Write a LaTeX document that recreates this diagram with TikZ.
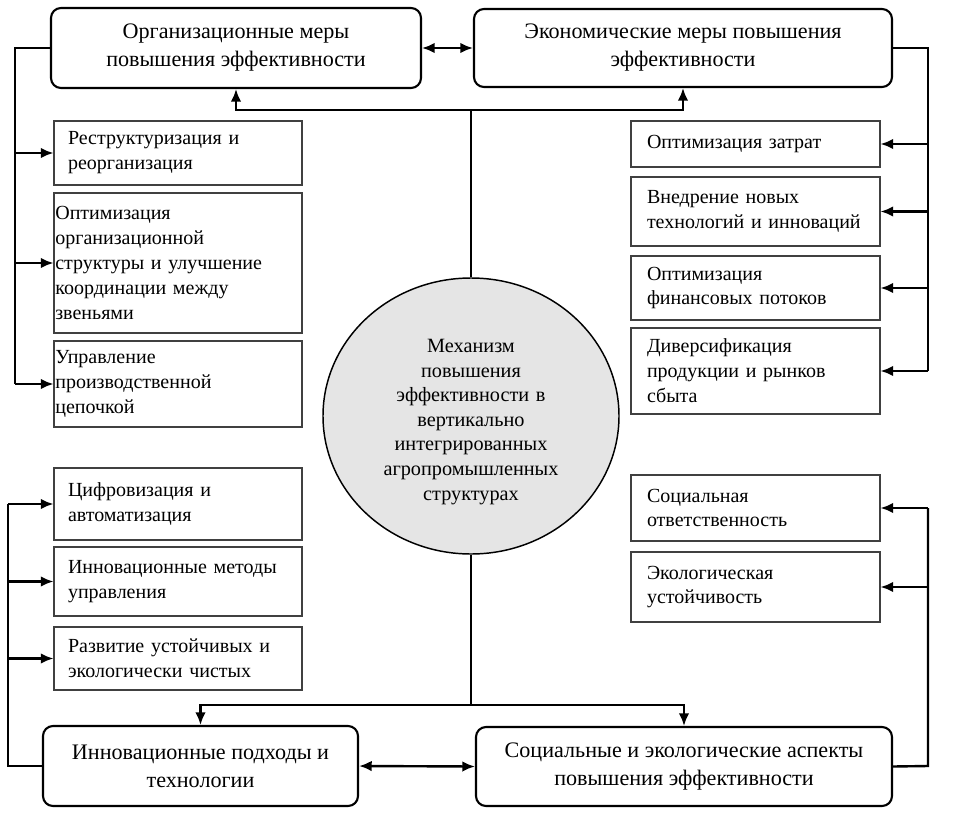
\documentclass[tikz,border=0pt]{standalone}
\usepackage{fontspec}
\setmainfont{Liberation Serif}
\usetikzlibrary{arrows.meta,shapes.geometric}
\begin{document}
\begin{tikzpicture}[x=0.75pt,y=-0.75pt,
  bigbox/.style={draw=black,line width=1.6pt,rounded corners=7.5pt,align=center,
    font=\fontsize{16.6}{21}\selectfont,inner sep=0pt},
  smallbox/.style={draw=black!75,line width=0.8pt,align=left,
    font=\fontsize{15}{18.7}\selectfont,inner ysep=0pt},
  lpad/.style={inner xsep=10.5pt,text width=165pt,minimum width=186pt},
  npad/.style={inner xsep=1pt,text width=184pt,minimum width=186pt},
  rpad/.style={inner xsep=12pt,text width=162.75pt,minimum width=186.75pt},
  conn/.style={line width=1.8pt},
  arr/.style={line width=1.8pt,-{Latex[length=9.5pt,width=8pt]}},
  darr/.style={line width=1.8pt,{Latex[length=9.5pt,width=8pt]}-{Latex[length=9.5pt,width=8pt]}}]
\useasboundingbox (0,0) rectangle (979,839);
% big boxes
\node[bigbox,minimum width=277.5pt,minimum height=60pt] (tl) at (236,48) {Организационные меры\\повышения эффективности};
\node[bigbox,minimum width=313.5pt,minimum height=58.5pt] (tr) at (683,48) {Экономические меры повышения\\эффективности};
\node[bigbox,minimum width=236.25pt,minimum height=60pt] (bl) at (200.5,766) {Инновационные подходы и\\технологии};
\node[bigbox,minimum width=312pt,minimum height=59.25pt] (br) at (684,766.5) {Социальные и экологические аспекты\\повышения эффективности};
% centre
\node[ellipse,draw=black,line width=1.1pt,fill=black!10,minimum width=222pt,minimum height=207pt,
  inner sep=0pt] (c) at (471,416) {};
\node[inner sep=0pt,text width=160pt,align=center,font=\fontsize{15.2}{18.4}\selectfont] (ct) at (471,422)
  {Механизм\\повышения\\эффективности в\\вертикально\\интегрированных\\агропромышленных\\структурах};
% left top boxes
\node[smallbox,lpad,minimum height=48pt] (l1) at (178,153) {Реструктуризация и\\реорганизация};
\node[smallbox,npad,minimum height=105pt] (l2) at (178,263) {Оптимизация\\организационной\\структуры и улучшение\\координации между\\звеньями};
\node[smallbox,npad,minimum height=64.5pt] (l3) at (178,384) {Управление\\производственной\\цепочкой};
% left bottom boxes
\node[smallbox,lpad,minimum height=54pt] (d1) at (178,504) {Цифровизация и\\автоматизация};
\node[smallbox,lpad,minimum height=51.75pt] (d2) at (178,581.5) {Инновационные методы\\управления};
\node[smallbox,lpad,minimum height=47.25pt] (d3) at (178,658.5) {Развитие устойчивых и\\экологически чистых};
% right top boxes
\node[smallbox,rpad,minimum height=34.5pt] (r1) at (755.5,144) {Оптимизация затрат};
\node[smallbox,rpad,minimum height=51.75pt] (r2) at (755.5,211.5) {Внедрение новых\\технологий и инноваций};
\node[smallbox,rpad,minimum height=48pt] (r3) at (755.5,288) {Оптимизация\\финансовых потоков};
\node[smallbox,rpad,minimum height=64.5pt] (r4) at (755.5,371) {Диверсификация\\продукции и рынков\\сбыта};
% right bottom boxes
\node[smallbox,rpad,minimum height=49.5pt] (s1) at (755.5,508) {Социальная\\ответственность};
\node[smallbox,rpad,minimum height=52.5pt] (s2) at (755.5,587) {Экологическая\\устойчивость};
% coordinates
\coordinate (T) at (471,110);
\coordinate (B) at (471,705);
\coordinate (LT) at (15,48);
\coordinate (LB) at (8,766);
\coordinate (RT) at (928,48);
\coordinate (RB) at (928,766);
% trunk
\draw[conn] (c.north) -- (T);
\draw[arr] (T) -| (tl.south);
\draw[arr] (T) -| (tr.south);
\draw[conn] (c.south) -- (B);
\draw[arr] (B) -| (bl.north);
\draw[arr] (B) -| (br.north);
% double arrows
\draw[darr] (tl.east) -- (tr.west);
\draw[darr] (bl.east) -- (br.west);
% left top
\draw[conn] (tl.west) -- (LT) -- (l3.west -| LT);
\draw[arr] (l1.west -| LT) -- (l1.west);
\draw[arr] (l2.west -| LT) -- (l2.west);
\draw[arr] (l3.west -| LT) -- (l3.west);
% left bottom
\draw[conn] (bl.west) -- (LB) -- (d1.west -| LB);
\draw[arr] (d1.west -| LB) -- (d1.west);
\draw[arr] (d2.west -| LB) -- (d2.west);
\draw[arr] (d3.west -| LB) -- (d3.west);
% right top
\draw[conn] (tr.east) -- (RT) -- (r4.east -| RT);
\draw[arr] (r1.east -| RT) -- (r1.east);
\draw[arr] (r2.east -| RT) -- (r2.east);
\draw[arr] (r3.east -| RT) -- (r3.east);
\draw[arr] (r4.east -| RT) -- (r4.east);
% right bottom
\draw[conn] (br.east) -- (RB) -- (s1.east -| RB);
\draw[arr] (s1.east -| RB) -- (s1.east);
\draw[arr] (s2.east -| RB) -- (s2.east);
\end{tikzpicture}
\end{document}
